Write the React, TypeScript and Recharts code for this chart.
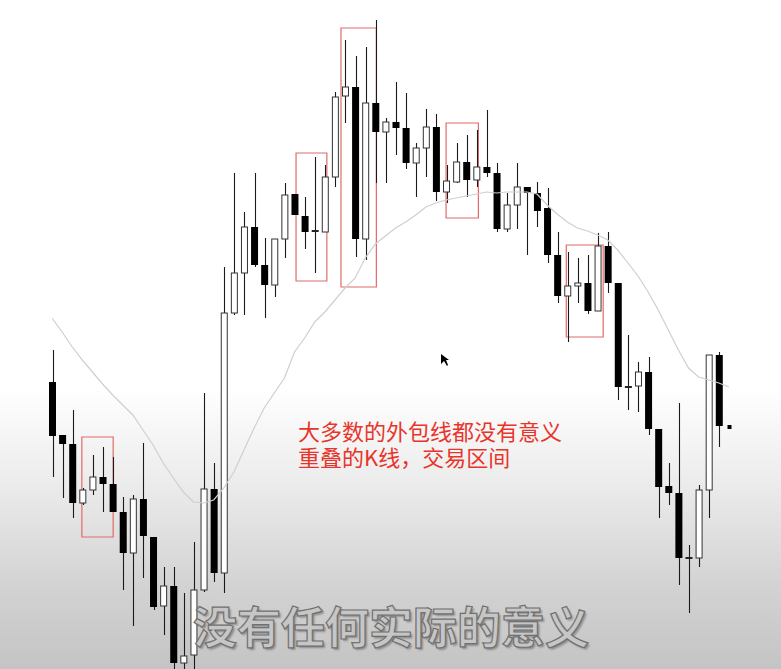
import { Bar, ComposedChart, Line, ReferenceArea, XAxis, YAxis } from "recharts";

// prices (arbitrary units, no axis shown)
const opens = [318, 265, 256, 197, 210, 223, 216, 188, 147, 201, 163, 94, 114, 37, 45, 110, 211, 127, 387, 427, 473, 435, 415, 461, 506, 484, 469, 468, 523, 604, 613, 461, 597, 568, 578, 572, 537, 552, 573, 508, 518, 538, 520, 533, 527, 471, 495, 513, 507, 492, 445, 404, 414, 417, 389, 454, 417, 313, 314, 328, 271, 214, 207, 142, 142, 210, 345, 274];
const highs = [350, 265, 290, 212, 245, 253, 243, 203, 205, 257, 163, 133, 133, 107, 158, 307, 237, 433, 527, 488, 527, 462, 461, 517, 506, 503, 543, 535, 608, 660, 644, 653, 680, 582, 618, 607, 557, 591, 586, 535, 557, 565, 570, 590, 537, 507, 537, 513, 518, 512, 468, 448, 442, 445, 467, 468, 417, 365, 338, 343, 271, 237, 297, 155, 215, 345, 348, 275];
const lows = [223, 202, 182, 195, 205, 188, 188, 110, 74, 122, 90, 65, 30, 28, 30, 108, 118, 107, 385, 385, 433, 382, 403, 442, 485, 451, 427, 468, 513, 577, 443, 440, 517, 517, 545, 531, 503, 523, 499, 497, 517, 503, 513, 523, 468, 468, 471, 445, 473, 437, 397, 358, 397, 386, 389, 407, 300, 290, 288, 265, 182, 195, 115, 87, 133, 182, 253, 271];
const closes = [264, 256, 197, 210, 223, 216, 188, 147, 201, 164, 93, 114, 37, 44, 110, 211, 127, 387, 427, 473, 435, 415, 461, 505, 485, 468, 468, 523, 603, 613, 461, 597, 568, 578, 572, 537, 552, 573, 508, 519, 538, 520, 533, 527, 471, 495, 513, 507, 489, 445, 404, 414, 417, 389, 454, 417, 313, 312, 328, 271, 213, 207, 142, 141, 210, 345, 274, 272];
const movingAvg = [382, 368, 353, 340, 328, 316, 305, 295, 285, 270, 255, 237, 222, 208, 198, 197, 200, 212, 228, 250, 272, 292, 307, 322, 348, 362, 378, 388, 400, 412, 422, 442, 456, 464, 472, 478, 485, 493, 497, 500, 502, 504, 506, 508, 507, 508, 508, 508, 506, 495, 486, 478, 472, 469, 465, 460, 450, 437, 424, 408, 390, 370, 350, 332, 323, 320, 317, 313];

// hand-drawn red boxes: candle index range and price range
const boxes = [
  { from: 2.95, to: 6.05, top: 263, bottom: 163 },
  { from: 24.15, to: 27.2, top: 547, bottom: 419 },
  { from: 28.6, to: 32.1, top: 672, bottom: 413 },
  { from: 39.0, to: 42.2, top: 577, bottom: 482 },
  { from: 50.9, to: 54.55, top: 455, bottom: 363 },
];

const noteLines = ["大多数的外包线都没有意义", "重叠的K线，交易区间"];
const subtitle = "没有任何实际的意义";

const data = opens.map((o, i) => ({
  i,
  open: o,
  high: highs[i],
  low: lows[i],
  close: closes[i],
  range: [lows[i], highs[i]],
  ma: movingAvg[i],
}));

function Candle(props: any) {
  const { x, y, width, height, payload } = props;
  if (!payload) return null;
  const top = Math.min(y, y + height);
  const h = Math.abs(height);
  const cx = Math.round(x + width / 2) + 0.5;
  // tiny last bar shows as a dot
  if (h < 5) {
    return <rect x={cx - 2} y={top + h / 2 - 2} width={4} height={4} fill="#000" />;
  }
  const span = payload.high - payload.low || 1;
  const k = h / span;
  const up = payload.close >= payload.open;
  const bTop = top + (payload.high - Math.max(payload.open, payload.close)) * k;
  const bBot = top + (payload.high - Math.min(payload.open, payload.close)) * k;
  const bh = bBot - bTop;
  return (
    <g>
      <line x1={cx} x2={cx} y1={top} y2={top + h} stroke="#1a1a1a" strokeWidth={1.1} />
      {bh < 2 ? (
        <rect x={x} y={bTop - 1} width={width} height={2} fill="#222" />
      ) : up ? (
        <rect x={x + 0.5} y={bTop} width={width - 1} height={bh} fill="#fff" stroke="#333" strokeWidth={1} />
      ) : (
        <rect x={x} y={bTop} width={width} height={bh} fill="#000" />
      )}
    </g>
  );
}

export default function App() {
  return (
    <div
      style={{
        position: "fixed",
        left: 0,
        top: 0,
        width: 781,
        height: 669,
        overflow: "hidden",
        background:
          "linear-gradient(to bottom, #ffffff 0%, #ffffff 58%, #ececec 72%, #d2d2d2 88%, #c4c4c4 100%)",
        fontFamily: "'Noto Sans CJK SC', 'Noto Sans', sans-serif",
      }}
    >
      <ComposedChart width={781} height={669} data={data} margin={{ top: 0, right: 47, bottom: 0, left: 47 }}>
        <XAxis dataKey="i" type="number" domain={[-0.5, 67.5]} hide />
        <YAxis type="number" domain={[31, 700]} allowDataOverflow hide />
        <Line
          dataKey="ma"
          stroke="#cfcfcf"
          strokeWidth={1.2}
          dot={false}
          isAnimationActive={false}
        />
        <Bar dataKey="range" barSize={7} shape={Candle} isAnimationActive={false} />
        {boxes.map((b, n) => (
          <ReferenceArea
            key={n}
            x1={b.from}
            x2={b.to}
            y1={b.bottom}
            y2={b.top}
            fill="none"
            stroke="#e06a6a"
            strokeWidth={1.2}
            ifOverflow="visible"
          />
        ))}
      </ComposedChart>

      <div
        style={{
          position: "absolute",
          left: 298,
          top: 417,
          fontSize: 22,
          lineHeight: "26px",
          color: "#e8352c",
          whiteSpace: "nowrap",
        }}
      >
        {noteLines[0]}
        <br />
        {noteLines[1]}
      </div>

      <div
        style={{
          position: "absolute",
          left: 193,
          top: 600,
          fontSize: 44,
          lineHeight: "50px",
          fontWeight: 700,
          color: "#c6c6c6",
          WebkitTextStroke: "1.2px #707070",
          textShadow: "2px 2px 2px rgba(0,0,0,0.3)",
          whiteSpace: "nowrap",
        }}
      >
        {subtitle}
      </div>

      <svg style={{ position: "absolute", left: 440, top: 353 }} width={10} height={14}>
        <polygon points="1,1 1,11 4,8 7,13 8,12 6,7 9,7" fill="#000" />
      </svg>
    </div>
  );
}
